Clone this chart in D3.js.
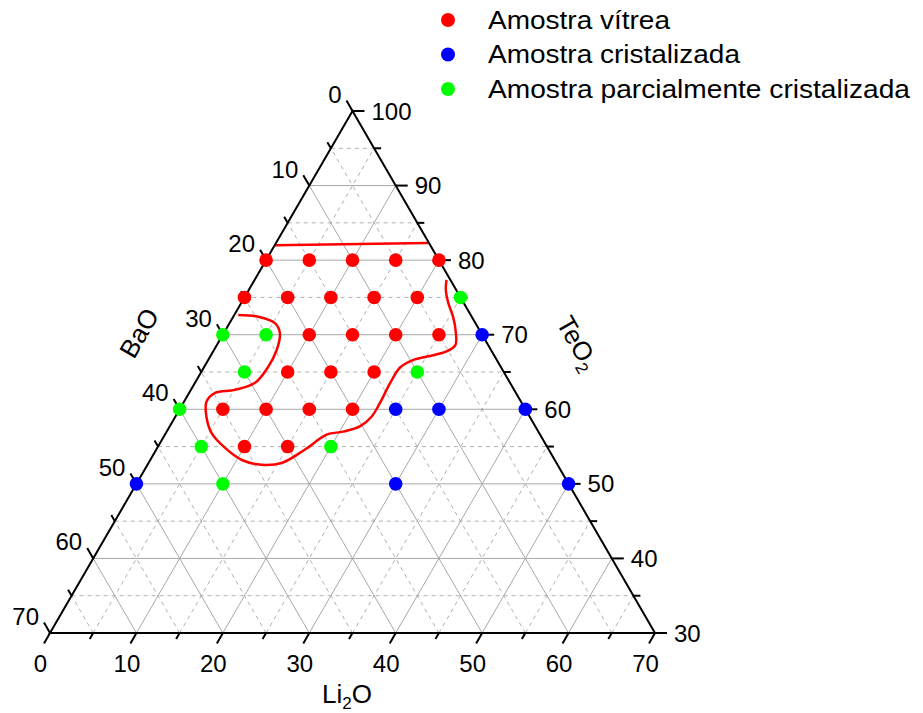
<!DOCTYPE html>
<html>
<head>
<meta charset="utf-8">
<script src="https://cdn.jsdelivr.net/npm/d3@7"></script>
<style>
  html, body { margin: 0; padding: 0; background: #fff; }
  svg { display: block; font-family: "Liberation Sans", Arial, sans-serif; }
</style>
</head>
<body>
<svg id="chart" width="923" height="713"></svg>
<script>
// Compositions in mol%: [Li2O, BaO, TeO2]
const vitrea = [
  [0, 20, 80], [5, 15, 80], [10, 10, 80], [15, 5, 80], [20, 0, 80],
  [0, 25, 75], [5, 20, 75], [10, 15, 75], [15, 10, 75], [20, 5, 75],
  [10, 20, 70], [15, 15, 70], [20, 10, 70], [25, 5, 70],
  [10, 25, 65], [15, 20, 65], [20, 15, 65],
  [5, 35, 60], [10, 30, 60], [15, 25, 60], [20, 20, 60],
  [10, 35, 55], [15, 30, 55]
];
const cristalizada = [
  [30, 0, 70],
  [25, 15, 60], [30, 10, 60], [40, 0, 60],
  [0, 50, 50], [30, 20, 50], [50, 0, 50]
];
const parcial = [
  [25, 0, 75],
  [0, 30, 70], [5, 25, 70],
  [5, 30, 65], [25, 10, 65],
  [0, 40, 60],
  [5, 40, 55], [20, 25, 55],
  [10, 40, 50]
];

// Glass-forming boundary lines, [Li2O, BaO]; TeO2 is the remainder
const upperLimit = [[0, 18.0], [17.6, 0.1]];
const lowerLimit = [
  [0.46, 26.9], [2.9, 24.7], [5.25, 23.2], [6.5, 23.3], [7.25, 24.8],
  [7.4, 26.95], [6.95, 29.5], [5.1, 32.3], [3.0, 34.8], [2.6, 36.4],
  [3.6, 37.4], [5.3, 37.9], [7.8, 37.35], [10.6, 36.2], [13.2, 34.25],
  [15.4, 31.8], [17.2, 28.2], [18.7, 24.7], [20.4, 22.6], [22.0, 20.3],
  [22.7, 18.3], [22.75, 16.4], [22.6, 13.9], [22.7, 11.7], [23.7, 9.7],
  [25.4, 7.45], [27.0, 5.25], [27.6, 3.8], [26.75, 2.85], [25.4, 2.15],
  [24.0, 1.8], [22.8, 1.2], [22.2, 0.45]
];

const liTicks = [0, 10, 20, 30, 40, 50, 60, 70];
const baTicks = [0, 10, 20, 30, 40, 50, 60, 70];
const teTicks = [30, 40, 50, 60, 70, 80, 90, 100];

const legendItems = [
  { label: "Amostra vítrea", color: "#ff0000" },
  { label: "Amostra cristalizada", color: "#0000ff" },
  { label: "Amostra parcialmente cristalizada", color: "#00ff00" }
];

const svg = d3.select("#chart");
const FONT = 24;

// Ternary projection: horizontal from Li2O plus half the TeO2 offset, vertical from TeO2
const x = d3.scaleLinear().domain([0, 70]).range([50, 655]);
const y = d3.scaleLinear().domain([30, 100]).range([633, 111]);
const proj = (li, ba) => {
  const te = 100 - li - ba;
  return [x(li + (te - 30) / 2), y(te)];
};

const gridG = svg.append("g");
const minorSteps = d3.range(5, 70, 5);
function gridLine(p1, p2, major) {
  gridG.append("line")
    .attr("x1", p1[0]).attr("y1", p1[1])
    .attr("x2", p2[0]).attr("y2", p2[1])
    .attr("stroke", major ? "#a8a8a8" : "#b0b0b0")
    .attr("stroke-width", 1)
    .attr("stroke-dasharray", major ? null : "4,4");
}
minorSteps.forEach(v => {
  const major = v % 10 === 0;
  // constant Li2O
  gridLine(proj(v, 70 - v), proj(v, 0), major);
  // constant BaO
  gridLine(proj(70 - v, v), proj(0, v), major);
  // constant TeO2 (= 30 + v)
  gridLine(proj(0, 70 - v), proj(70 - v, 0), major);
});

// Glass-forming region boundaries
const line = d3.line()
  .x(d => proj(d[0], d[1])[0])
  .y(d => proj(d[0], d[1])[1]);
svg.append("path").datum(upperLimit)
  .attr("d", line.curve(d3.curveLinear))
  .attr("fill", "none").attr("stroke", "#ff0000").attr("stroke-width", 2.5);
svg.append("path").datum(lowerLimit)
  .attr("d", line.curve(d3.curveCatmullRom.alpha(0.5)))
  .attr("fill", "none").attr("stroke", "#ff0000").attr("stroke-width", 2.5);

// Triangle frame
const frame = [proj(0, 70), proj(70, 0), proj(0, 0)];
svg.append("path")
  .attr("d", "M" + frame.map(p => p.join(",")).join("L") + "Z")
  .attr("fill", "none").attr("stroke", "#000").attr("stroke-width", 2)
  .attr("stroke-linejoin", "miter");

// Ticks on the three edges
const tickG = svg.append("g").attr("stroke", "#000").attr("stroke-width", 2);
const c60 = 0.5, s60 = Math.sqrt(3) / 2;
d3.range(0, 71, 5).forEach(v => {
  const len = v % 10 === 0 ? 12 : 7;
  // Li2O on the bottom edge, pointing down-left
  const pb = proj(v, 70 - v);
  tickG.append("line").attr("x1", pb[0]).attr("y1", pb[1])
    .attr("x2", pb[0] - len * c60).attr("y2", pb[1] + len * s60);
  // BaO on the left edge, pointing up-left
  const pl = proj(0, v);
  tickG.append("line").attr("x1", pl[0]).attr("y1", pl[1])
    .attr("x2", pl[0] - len * c60).attr("y2", pl[1] - len * s60);
  // TeO2 on the right edge, pointing right
  const pr = proj(70 - v, 0);
  tickG.append("line").attr("x1", pr[0]).attr("y1", pr[1])
    .attr("x2", pr[0] + len).attr("y2", pr[1]);
});

// Tick labels
const labelG = svg.append("g").attr("font-size", FONT).attr("fill", "#000");
liTicks.forEach(v => {
  const p = proj(v, 70 - v);
  labelG.append("text").attr("x", p[0] - 9.5).attr("y", p[1] + 39)
    .attr("text-anchor", "middle").text(v);
});
baTicks.forEach(v => {
  const p = proj(0, v);
  labelG.append("text").attr("x", p[0] - 11).attr("y", p[1] - 8)
    .attr("text-anchor", "end").text(v);
});
teTicks.forEach(v => {
  const p = proj(100 - v - 0, 0);
  const q = proj(100 - v, 0);
  labelG.append("text").attr("x", q[0] + 19).attr("y", q[1] + 8.5)
    .attr("text-anchor", "start").text(v);
});

// Axis titles
const liT = svg.append("text").attr("x", 347).attr("y", 703)
  .attr("text-anchor", "middle").attr("font-size", 26);
liT.append("tspan").text("Li");
liT.append("tspan").attr("font-size", 17).attr("dy", 6).text("2");
liT.append("tspan").attr("dy", -6).text("O");

svg.append("text")
  .attr("transform", "translate(139,333) rotate(-60)")
  .attr("text-anchor", "middle").attr("dy", "0.35em")
  .attr("font-size", 26).text("BaO");

const teT = svg.append("text")
  .attr("transform", "translate(578,343) rotate(60)")
  .attr("text-anchor", "middle").attr("dy", "0.35em")
  .attr("font-size", 26);
teT.append("tspan").text("TeO");
teT.append("tspan").attr("font-size", 17).attr("dy", 6).text("2");

// Sample points
const series = [
  { data: vitrea, color: "#ff0000" },
  { data: cristalizada, color: "#0000ff" },
  { data: parcial, color: "#00ff00" }
];
series.forEach(s => {
  svg.append("g").selectAll("circle").data(s.data).join("circle")
    .attr("cx", d => proj(d[0], d[1])[0])
    .attr("cy", d => proj(d[0], d[1])[1])
    .attr("r", 6.8)
    .attr("fill", s.color);
});

// Legend
const legendWidths = [182, 252, 422];
const lg = svg.append("g");
legendItems.forEach((it, i) => {
  const cy = 20 + i * 34.5;
  lg.append("circle").attr("cx", 448).attr("cy", cy).attr("r", 7).attr("fill", it.color);
  lg.append("text").attr("x", 488).attr("y", cy + 8.5)
    .attr("font-size", 25)
    .attr("textLength", legendWidths[i]).attr("lengthAdjust", "spacingAndGlyphs")
    .text(it.label);
});
</script>
</body>
</html>
